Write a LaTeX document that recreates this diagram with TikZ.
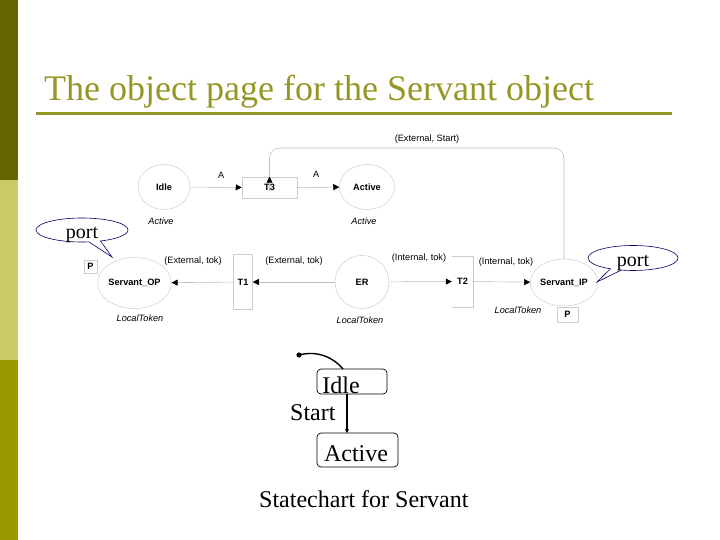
\documentclass[tikz,border=0pt]{standalone}
\usepackage{fontspec}
\setmainfont{Liberation Serif}
\newfontfamily\arial{Liberation Sans}
\usetikzlibrary{arrows.meta,shapes.geometric,shapes.callouts}
\definecolor{barA}{HTML}{666600}
\definecolor{barB}{HTML}{CCCC66}
\definecolor{barC}{HTML}{999900}
\definecolor{titlecol}{HTML}{969626}
\definecolor{navy}{HTML}{000066}
\tikzset{
  conn/.style={draw=gray!50, line width=0.6pt},
  tip/.style={-{Triangle[length=6pt,width=6pt,color=black,fill=black]}},
  place/.style={ellipse, draw=gray!40, line width=0.5pt, inner sep=0pt,
    font=\arial\bfseries\fontsize{9.2}{10}\selectfont},
  trans/.style={rectangle, draw=gray!40, line width=0.5pt, inner sep=0pt,
    font=\arial\bfseries\fontsize{9.2}{10}\selectfont},
  lab/.style={inner sep=0pt, font=\arial\fontsize{9.2}{10}\selectfont},
  itlab/.style={inner sep=0pt, font=\arial\itshape\fontsize{9.2}{10}\selectfont},
  portcall/.style={ellipse callout, draw=navy, line width=0.6pt, inner sep=0pt,
    minimum width=92, minimum height=24, font=\fontsize{20}{22}\selectfont},
  sbox/.style={rectangle, rounded corners=4pt, draw=black, line width=0.7pt, inner sep=0pt},
  stext/.style={inner sep=0pt, font=\fontsize{24}{26}\selectfont},
}
\begin{document}
\begin{tikzpicture}[x=1pt,y=-1pt]
\useasboundingbox (0,0) rectangle (720,540);
% side bars
\fill[barA] (0,0) rectangle (18,180);
\fill[barB] (0,180) rectangle (18,360);
\fill[barC] (0,360) rectangle (18,540);
% title
\node[anchor=base west, inner sep=0pt, text=titlecol, font=\fontsize{36}{40}\selectfont] (title) at (44,101) {The object page for the Servant object};
\draw[titlecol, line width=3pt] (36,114) -- (672,114);

% object page
\node[place, minimum width=52, minimum height=45] (Idle) at (164,187) {Idle};
\node[trans, minimum width=55, minimum height=21] (T3) at (269.5,187.5) {T3};
\node[place, minimum width=55, minimum height=45] (Act) at (367,187) {Active};
\node[itlab] (lIdle) at (161,221) {Active};
\node[itlab] (lAct) at (364,221) {Active};
\draw[conn,tip] (Idle) -- (T3) node[lab, pos=0.6, above=8pt] (a1) {A};
\draw[conn,tip] (T3) -- (Act) node[lab, pos=0.45, above=9pt] (a2) {A};

\node[place, minimum width=67, minimum height=51] (SOP) at (134.5,283) {Servant\_OP};
\node[trans, minimum width=13, minimum height=13] (P1) at (90.5,266.5) {P};
\node[trans, minimum width=19, minimum height=55] (T1) at (243,282) {T1};
\node[place, minimum width=54, minimum height=53] (ER) at (362,282) {ER};
\node[lab, minimum width=21, minimum height=51] (T2) at (462.5,281.5) {\bfseries T2};
\draw[draw=gray!40, line width=0.5pt] (T2.north west) -- (T2.north east) -- (T2.south east) -- (T2.south west);
\node[place, minimum width=62, minimum height=47] (SIP) at (564,282.5) {Servant\_IP};
\node[trans, minimum width=21, minimum height=15] (P2) at (567.5,314.5) {P};

\draw[conn,tip] (T1) -- (SOP);
\draw[conn,tip] (ER) -- (T1);
\draw[conn,tip] (ER) -- (T2);
\draw[conn,tip] (T2) -- (SIP);
\coordinate (top) at (0,148);
\draw[conn, rounded corners=10pt] (SIP.north) -- (SIP.north |- top) -- (T3.north |- top) -- ([yshift=-14pt]T3.north);
\draw[conn,tip] ([yshift=-14pt]T3.north) -- (T3.north);
\node[lab] (lES) at (427,139) {(External, Start)};
\node[lab] (l1) at (193,261) {(External, tok)};
\node[lab] (l2) at (294,261) {(External, tok)};
\node[lab] (l3) at (419,258) {(Internal, tok)};
\node[lab] (l4) at (506,262) {(Internal, tok)};
\node[itlab] (lt1) at (140,318) {LocalToken};
\node[itlab] (lt2) at (360,320) {LocalToken};
\node[itlab] (lt3) at (518,310) {LocalToken};

% callouts
\coordinate (tipL) at (112,257);
\coordinate (tipR) at (597,282);
\node[portcall, callout absolute pointer={(tipL)}] (portL) at (82,230) {\raisebox{-9pt}[0pt][0pt]{port}};
\node[portcall, callout absolute pointer={(tipR)}, minimum width=90, minimum height=25] (portR) at (633,258) {\raisebox{-9pt}[0pt][0pt]{port}};

% statechart
\node[sbox, minimum width=70, minimum height=25] (sIdle) at (352,381.5) {};
\node[stext, anchor=base] (tIdle) at (341,393) {Idle};
\node[sbox, minimum width=81, minimum height=34] (sAct) at (357.5,450) {};
\node[stext, anchor=base] (tAct) at (356,461) {Active};
\fill (299,355) circle (2.6pt) coordinate (init);
\coordinate (idleTop) at (343,369);
\draw[line width=1.4pt] (init) .. controls (318,350) and (334,358) .. (idleTop);
\coordinate (iBot) at (347,394);
\coordinate (aTop) at (347,433);
\draw[line width=1.2pt, -{Stealth[length=4pt,width=4pt]}] (iBot) -- (aTop);
\node[stext, anchor=base west] (tStart) at (290,420) {Start};
\node[stext, anchor=base west] (cap) at (259,507) {Statechart for Servant};
\end{tikzpicture}
\end{document}
